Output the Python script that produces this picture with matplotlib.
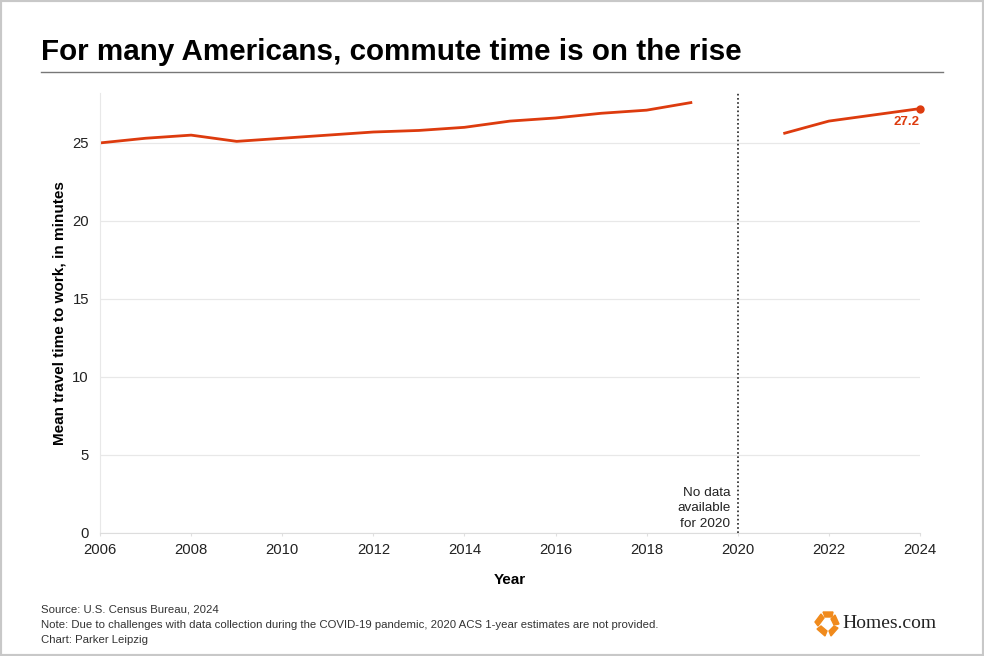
import matplotlib.pyplot as plt
from matplotlib.patches import Rectangle, Polygon

plt.rcParams['font.family'] = ['Liberation Sans', 'DejaVu Sans']

years_a = [2006, 2007, 2008, 2009, 2010, 2011, 2012, 2013, 2014, 2015, 2016, 2017, 2018, 2019]
mins_a = [25.0, 25.3, 25.5, 25.1, 25.3, 25.5, 25.7, 25.8, 26.0, 26.4, 26.6, 26.9, 27.1, 27.6]
years_b = [2021, 2022, 2023, 2024]
mins_b = [25.6, 26.4, 26.8, 27.2]
xticks = [2006, 2008, 2010, 2012, 2014, 2016, 2018, 2020, 2022, 2024]
yticks = [0, 5, 10, 15, 20, 25]

red = '#DD3B0E'

fig = plt.figure(figsize=(9.84, 6.56), dpi=100)
ax = fig.add_axes([100/984, 1-533/656, 820/984, 440/656])

ax.plot(years_a, mins_a, color=red, lw=2, solid_capstyle='butt')
ax.plot(years_b, mins_b, color=red, lw=2, solid_capstyle='butt')
ax.plot(years_b[-1], mins_b[-1], 'o', color=red, ms=5, clip_on=False)
ax.text(years_b[-1], mins_b[-1] - 0.5, f'{mins_b[-1]:.1f}', color=red,
        fontsize=9.5, fontweight='bold', ha='right', va='top')

ax.axvline(2020, color='#222222', lw=1.2, ls=(0, (1, 1.5)))
ax.text(2019.84, 0.2, 'No data\navailable\nfor 2020', ha='right', va='bottom',
        fontsize=9.7, color='#222222', linespacing=1.4)

ax.set_xlim(2006, 2024)
ax.set_ylim(0, 28.2)
ax.set_xticks(xticks)
ax.set_yticks(yticks)
ax.grid(axis='y', color='#e8e8e8', lw=0.9)
ax.set_axisbelow(True)
for s in ['top', 'right']:
    ax.spines[s].set_visible(False)
ax.spines['left'].set_color('#e8e8e8')
ax.spines['bottom'].set_color('#dddddd')
ax.tick_params(axis='both', labelsize=10.7, colors='#222222', length=0, pad=8)
ax.tick_params(axis='x', length=2, color='#e0e0e0', pad=5)

ax.set_xlabel('Year', fontsize=11, fontweight='bold', labelpad=12)
ax.set_ylabel('Mean travel time to work, in minutes', fontsize=11, fontweight='bold', labelpad=4)

# title and rule
fig.text(41/984, 1-52/656, 'For many Americans, commute time is on the rise',
         fontsize=21.3, fontweight='bold', va='center', ha='left')
fig.add_artist(plt.Line2D([41/984, 943/984], [1-72/656, 1-72/656], color='#777777', lw=1))

# footer
notes = ['Source: U.S. Census Bureau, 2024',
         'Note: Due to challenges with data collection during the COVID-19 pandemic, 2020 ACS 1-year estimates are not provided.',
         'Chart: Parker Leipzig']
for i, t in enumerate(notes):
    fig.text(41/984, 1-(610 + 15*i)/656, t, fontsize=8.2, color='#333333', va='center')

# logo
orange = '#F08A1C'
cx, cy = 827, 624
pieces = [[(-12, -2), (-6, -10), (-3, -6), (-9, 2)],
          [(-4, -12), (6, -12), (5, -7), (-2, -7)],
          [(8, -9), (12, 0), (7, 1), (4, -5)],
          [(11, 4), (4, 12), (2, 7), (7, 2)],
          [(-10, 5), (-2, 12), (0, 7), (-6, 2)]]
for p in pieces:
    fig.add_artist(Polygon([((cx + a)/984, 1-(cy + b)/656) for a, b in p],
                           closed=True, color=orange, transform=fig.transFigure))
fig.text(842/984, 1-624/656, 'Homes.com', fontsize=14, family='Liberation Serif',
         va='center', color='#222222')

# frame
fig.add_artist(Rectangle((0, 0), 1, 1, transform=fig.transFigure, fill=False,
                         edgecolor='#c8c8c8', lw=3))

fig.savefig('out.png', dpi=100)
